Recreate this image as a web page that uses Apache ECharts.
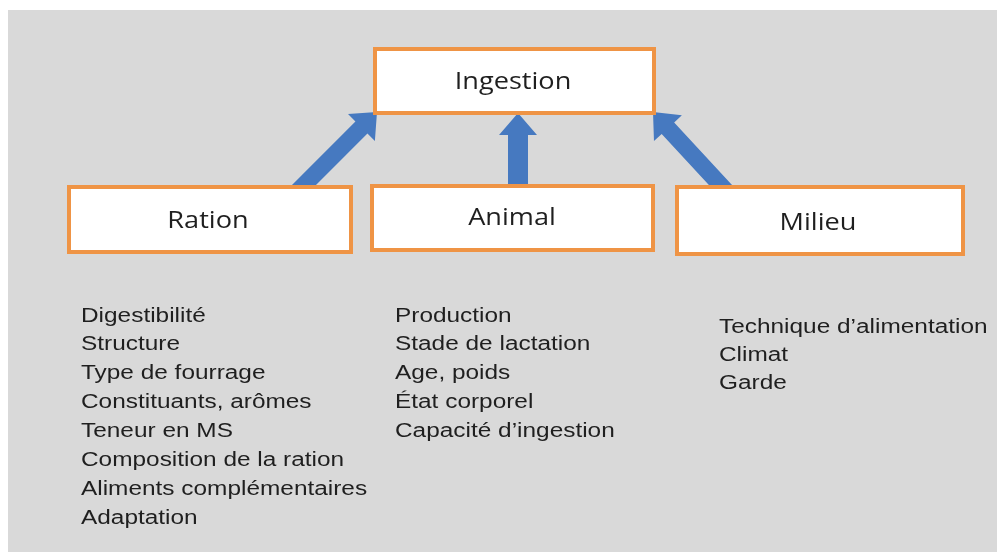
<!DOCTYPE html>
<html>
<head>
<meta charset="utf-8">
<script src="https://cdn.jsdelivr.net/npm/echarts@6/dist/echarts.min.js"></script>
<style>
  html, body { margin: 0; padding: 0; background: #fff; }
  #chart { width: 997px; height: 552px; }
</style>
</head>
<body>
<div id="chart"></div>
<script>
// diagram content
var boxes = ['Ingestion', 'Ration', 'Animal', 'Milieu']
var links = [['Ration', 'Ingestion'], ['Animal', 'Ingestion'], ['Milieu', 'Ingestion']]
var rationFactors = [
  'Digestibilité', 'Structure', 'Type de fourrage', 'Constituants, arômes',
  'Teneur en MS', 'Composition de la ration', 'Aliments complémentaires', 'Adaptation'
]
var animalFactors = ['Production', 'Stade de lactation', 'Age, poids', 'État corporel', "Capacité d’ingestion"]
var milieuFactors = ["Technique d’alimentation", 'Climat', 'Garde']
var factorLists = [rationFactors, animalFactors, milieuFactors]

// layout, in page pixels (the hidden axes run 0..997 and 0..552)
var boxRect = {
  Ingestion: [373, 47, 656, 115],
  Ration: [67, 185, 353, 254],
  Animal: [370, 184, 655, 252],
  Milieu: [675, 185, 965, 256]
}
var labelPos = {
  Ingestion: [513, 82],
  Ration: [208, 221],
  Animal: [512, 218],
  Milieu: [818, 223]
}
var arrowEnds = {
  Ration: [[297, 192], [377, 112]],
  Animal: [[518, 190], [518, 113]],
  Milieu: [[726, 191], [653, 112]]
}
var listOrigin = [[81, 316], [395, 316], [719, 327]]
var listStep = [28.9, 28.8, 28]

var orange = '#ef9445'
var blue = '#4679c0'
var ink = '#1f1f1f'

var chartDom = document.getElementById('chart')
var myChart = echarts.init(chartDom)

function arrowPoints(api, tail, tip) {
  var a = api.coord(tail)
  var b = api.coord(tip)
  var dx = b[0] - a[0], dy = b[1] - a[1]
  var len = Math.sqrt(dx * dx + dy * dy)
  var ux = dx / len, uy = dy / len
  var px = -uy, py = ux
  var hl = 22, hw = 19, sw = tail[0] === tip[0] ? 10 : 8.5
  var bx = b[0] - ux * hl, by = b[1] - uy * hl
  return [
    [a[0] + px * sw, a[1] + py * sw],
    [bx + px * sw, by + py * sw],
    [bx + px * hw, by + py * hw],
    b,
    [bx - px * hw, by - py * hw],
    [bx - px * sw, by - py * sw],
    [a[0] - px * sw, a[1] - py * sw]
  ]
}

var option = {
  backgroundColor: '#fff',
  animation: false,
  grid: { left: 0, right: 0, top: 0, bottom: 0 },
  xAxis: { type: 'value', min: 0, max: 997, show: false },
  yAxis: { type: 'value', min: 0, max: 552, inverse: true, show: false },
  graphic: [{
    type: 'rect',
    z: -10,
    shape: { x: 8, y: 10, width: 989, height: 542 },
    style: { fill: '#d9d9d9' }
  }],
  series: [
    {
      type: 'custom',
      z: 1,
      silent: true,
      data: links.map(function (l, i) { return [i] }),
      renderItem: function (params, api) {
        var from = links[params.dataIndex][0]
        var ends = arrowEnds[from]
        return {
          type: 'polygon',
          shape: { points: arrowPoints(api, ends[0], ends[1]) },
          style: { fill: blue }
        }
      }
    },
    {
      type: 'custom',
      z: 2,
      silent: true,
      data: boxes.map(function (b, i) { return [i] }),
      renderItem: function (params, api) {
        var name = boxes[params.dataIndex]
        var r = boxRect[name]
        var p0 = api.coord([r[0], r[1]])
        var p1 = api.coord([r[2], r[3]])
        var c = api.coord(labelPos[name])
        return {
          type: 'group',
          children: [{
            type: 'rect',
            shape: { x: p0[0] + 2, y: p0[1] + 2, width: p1[0] - p0[0] - 4, height: p1[1] - p0[1] - 4 },
            style: { fill: '#fff', stroke: orange, lineWidth: 4 }
          }, {
            type: 'text',
            x: c[0],
            y: c[1],
            scaleX: 1.18,
            style: {
              text: name,
              fontFamily: 'Open Sans',
              fontSize: 23,
              fill: ink,
              align: 'center',
              verticalAlign: 'middle'
            }
          }]
        }
      }
    },
    {
      type: 'custom',
      z: 3,
      silent: true,
      data: (function () {
        var d = []
        factorLists.forEach(function (list, col) {
          list.forEach(function (t, row) { d.push([col, row]) })
        })
        return d
      })(),
      renderItem: function (params, api) {
        var col = api.value(0), row = api.value(1)
        var o = listOrigin[col]
        var p = api.coord([o[0], o[1] + row * listStep[col]])
        return {
          type: 'text',
          x: p[0],
          y: p[1],
          scaleX: 1.22,
          style: {
            text: factorLists[col][row],
            fontFamily: 'Liberation Sans',
            fontSize: 20,
            fill: ink,
            align: 'left',
            verticalAlign: 'middle'
          }
        }
      }
    }
  ]
}

option && myChart.setOption(option)
</script>
</body>
</html>
